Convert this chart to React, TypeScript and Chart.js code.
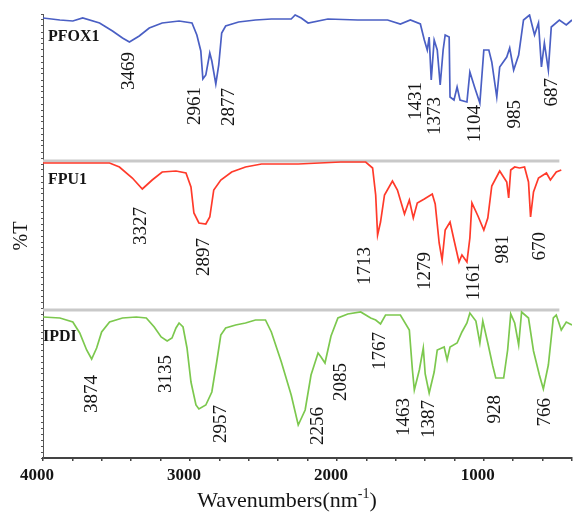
import React, { useEffect, useRef } from 'react';
import { Chart, registerables } from 'chart.js';

Chart.register(...registerables);

// ---------- data (wavenumber cm-1, offset %T units) ----------
const seriesNames = ['PFOX1', 'FPU1', 'IPDI'];
const seriesColors = ['#4a5fc4', '#ff3a2a', '#7cc84e'];

const pfox1: [number, number][] = [
  [4000, 440], [3885, 438], [3797, 437], [3730, 440], [3615, 435], [3527, 427], [3459, 420], [3412, 416],
  [3345, 422], [3277, 430], [3189, 435], [3074, 437], [2986, 435], [2953, 423], [2926, 407], [2912, 379],
  [2892, 383], [2865, 405], [2851, 397], [2824, 374], [2804, 393], [2784, 425], [2757, 432], [2669, 436],
  [2554, 438], [2446, 439], [2311, 439], [2284, 443], [2243, 440], [2196, 435], [2061, 439], [1858, 438],
  [1655, 438], [1568, 434], [1500, 438], [1432, 434], [1405, 418], [1385, 408], [1372, 421], [1358, 378],
  [1338, 418], [1317, 408], [1297, 373], [1277, 408], [1263, 423], [1236, 421], [1230, 361], [1203, 358],
  [1182, 371], [1162, 358], [1115, 356], [1095, 386], [1061, 370], [1027, 355], [1000, 408], [966, 408],
  [946, 396], [912, 361], [892, 391], [844, 401], [824, 410], [797, 388], [763, 403], [730, 438],
  [689, 443], [655, 423], [628, 435], [608, 391], [588, 415], [561, 388], [541, 431], [486, 438],
  [439, 433], [400, 438],
];

const fpu1: [number, number][] = [
  [4000, 295], [3547, 295], [3480, 291], [3392, 280], [3324, 269], [3257, 278], [3189, 286], [3095, 287],
  [3027, 285], [2993, 271], [2973, 245], [2939, 235], [2892, 234], [2865, 241], [2838, 268], [2790, 278],
  [2716, 286], [2622, 291], [2513, 294], [2263, 294], [1973, 296], [1804, 296], [1757, 290], [1736, 263],
  [1723, 223], [1703, 236], [1676, 263], [1622, 277], [1588, 268], [1540, 244], [1507, 258], [1480, 240],
  [1453, 255], [1405, 259], [1351, 264], [1331, 254], [1304, 215], [1284, 198], [1263, 228], [1230, 236],
  [1203, 218], [1169, 196], [1149, 203], [1115, 196], [1095, 220], [1081, 255], [1040, 242], [1000, 228],
  [973, 240], [946, 272], [892, 287], [844, 276], [831, 260], [817, 288], [790, 291], [757, 290],
  [723, 291], [696, 276], [682, 241], [662, 266], [628, 280], [574, 285], [547, 278], [507, 286],
  [473, 288],
];

const ipdi: [number, number][] = [
  [4000, 141], [3885, 140], [3797, 136], [3750, 125], [3703, 108], [3669, 99], [3635, 110], [3601, 126],
  [3547, 136], [3459, 140], [3365, 141], [3297, 140], [3243, 131], [3196, 121], [3155, 117], [3122, 120],
  [3095, 130], [3074, 135], [3047, 131], [3020, 110], [2993, 76], [2959, 53], [2939, 49], [2892, 53],
  [2851, 66], [2818, 96], [2790, 123], [2757, 130], [2689, 133], [2622, 135], [2554, 138], [2486, 138],
  [2446, 126], [2378, 96], [2311, 63], [2263, 33], [2216, 48], [2176, 83], [2128, 105], [2108, 101],
  [2081, 95], [2040, 122], [1993, 140], [1926, 144], [1838, 146], [1770, 140], [1736, 138], [1703, 134],
  [1669, 143], [1568, 143], [1507, 128], [1486, 88], [1473, 68], [1439, 88], [1412, 110], [1399, 84],
  [1372, 65], [1338, 86], [1317, 108], [1270, 111], [1250, 98], [1230, 111], [1182, 115], [1149, 126],
  [1115, 135], [1095, 145], [1054, 137], [1027, 115], [1007, 137], [973, 115], [939, 92], [919, 80],
  [865, 80], [838, 108], [817, 144], [790, 135], [763, 113], [743, 146], [696, 140], [662, 107],
  [622, 83], [595, 69], [561, 93], [527, 140], [507, 143], [473, 128], [439, 136], [400, 133],
];

// grey baselines separating the stacked spectra
const separatorLevels = [297, 148];
const separatorRange = [4000, 486];

// peak labels: [text, wavenumber anchor, level of label top]
const pfox1Peaks: [string, number, number][] = [
  ['3469', 3412, 406], ['2961', 2966, 371], ['2877', 2736, 370], ['1431', 1459, 376],
  ['1373', 1331, 361], ['1104', 1061, 353], ['985', 790, 358], ['687', 534, 380],
];
const fpu1Peaks: [string, number, number][] = [
  ['3327', 3331, 251], ['2897', 2905, 220], ['1713', 1811, 211], ['1279', 1399, 206],
  ['1161', 1068, 195], ['981', 872, 223], ['670', 615, 226],
];
const ipdiPeaks: [string, number, number][] = [
  ['3874', 3669, 83], ['3135', 3162, 103], ['2957', 2790, 53], ['2256', 2128, 51],
  ['2085', 1973, 95], ['1767', 1709, 126], ['1463', 1540, 60], ['1387', 1372, 58],
  ['928', 926, 63], ['766', 581, 60],
];
const nameAnchors: [number, number][] = [[3966, 421], [3966, 278], [4000, 121]];

const xTickLabels = [4000, 3000, 2000, 1000];
const xTitle = 'Wavenumbers(nm';
const xTitleSup = '-1';
const yTitle = '%T';

const SERIF = '"Liberation Serif", "Times New Roman", serif';

const annotate = {
  id: 'annotate',
  afterDatasetsDraw(chart: any) {
    const { ctx, scales } = chart;
    const x = scales.x;
    const y = scales.y;
    ctx.save();
    ctx.fillStyle = '#151515';
    ctx.font = `19px ${SERIF}`;
    [...pfox1Peaks, ...fpu1Peaks, ...ipdiPeaks].forEach(([t, w, v]) => {
      ctx.save();
      ctx.translate(x.getPixelForValue(w), y.getPixelForValue(v));
      ctx.rotate(-Math.PI / 2);
      ctx.textAlign = 'right';
      ctx.textBaseline = 'middle';
      ctx.fillText(t, 0, 0);
      ctx.restore();
    });
    ctx.font = `bold 16px ${SERIF}`;
    ctx.textAlign = 'left';
    ctx.textBaseline = 'middle';
    seriesNames.forEach((n, i) => {
      const [w, v] = nameAnchors[i];
      ctx.fillText(n, x.getPixelForValue(w), y.getPixelForValue(v));
    });
    // x axis title with superscript
    ctx.textBaseline = 'alphabetic';
    ctx.font = `22px ${SERIF}`;
    const wMain = ctx.measureText(xTitle).width;
    const wClose = ctx.measureText(')').width;
    ctx.font = `14px ${SERIF}`;
    const wSup = ctx.measureText(xTitleSup).width;
    const total = wMain + wSup + wClose;
    let cx = 287 - total / 2;
    const base = 507;
    ctx.font = `22px ${SERIF}`;
    ctx.fillText(xTitle, cx, base);
    cx += wMain;
    ctx.font = `14px ${SERIF}`;
    ctx.fillText(xTitleSup, cx, base - 9);
    cx += wSup;
    ctx.font = `22px ${SERIF}`;
    ctx.fillText(')', cx, base);
    ctx.restore();
  },
};

export default function App() {
  const ref = useRef<HTMLCanvasElement | null>(null);
  useEffect(() => {
    if (!ref.current) return;
    const lines = [pfox1, fpu1, ipdi].map((s, i) => ({
      label: seriesNames[i],
      data: s.map(([w, v]) => ({ x: w, y: v })),
      borderColor: seriesColors[i],
      borderWidth: 1.7,
      pointRadius: 0,
      tension: 0,
      fill: false,
    }));
    const seps = separatorLevels.map((lv) => ({
      label: 'sep',
      data: separatorRange.map((w) => ({ x: w, y: lv })),
      borderColor: '#c9c9c9',
      borderWidth: 3,
      pointRadius: 0,
      fill: false,
    }));
    const chart = new Chart(ref.current, {
      type: 'line',
      data: { datasets: [...lines, ...seps] as any },
      options: {
        responsive: false,
        animation: false,
        layout: { padding: { top: 14, left: 0, right: 0, bottom: 0 } },
        plugins: { legend: { display: false }, tooltip: { enabled: false } },
        scales: {
          x: {
            type: 'linear',
            reverse: true,
            min: 400,
            max: 4000,
            afterFit: (s: any) => { s.height = 55; },
            ticks: {
              stepSize: 200,
              autoSkip: false,
              maxRotation: 0,
              minRotation: 0,
              labelOffset: -6,
              padding: 4,
              color: '#151515',
              font: { family: SERIF, size: 17, weight: 'bold' },
              callback: (v: any) => (xTickLabels.includes(Number(v)) ? String(v) : ''),
            },
            grid: { drawOnChartArea: false, tickLength: 3, color: '#444', lineWidth: 1.5 },
            border: { color: '#444', width: 2 },
          },
          y: {
            min: 0,
            max: 444,
            afterFit: (s: any) => { s.width = 43; },
            ticks: { display: false, stepSize: 6, maxTicksLimit: 1000 },
            grid: { drawOnChartArea: false, tickLength: 2, color: '#555', lineWidth: 1 },
            border: { color: '#555', width: 1 },
            title: {
              display: true,
              text: yTitle,
              color: '#151515',
              font: { family: SERIF, size: 20 },
              padding: { top: 10, bottom: 0 },
            },
          },
        },
      } as any,
      plugins: [annotate],
    });
    return () => chart.destroy();
  }, []);
  return (
    <div style={{ position: 'absolute', left: 0, top: 0, width: 576, height: 513, background: '#fff' }}>
      <canvas ref={ref} width={576} height={513} style={{ display: 'block' }} />
    </div>
  );
}
